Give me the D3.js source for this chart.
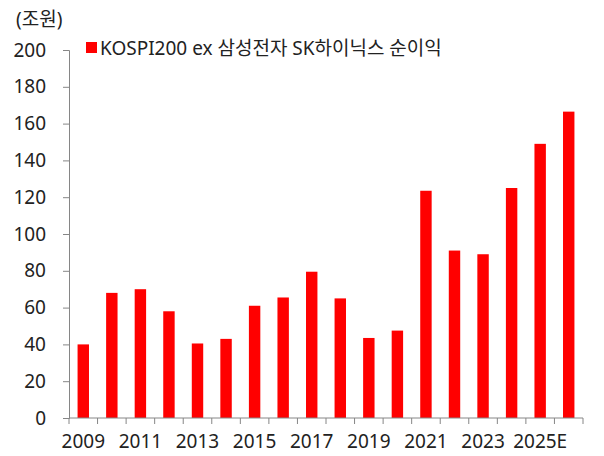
<!DOCTYPE html>
<html>
<head>
<meta charset="utf-8">
<script src="https://cdn.jsdelivr.net/npm/d3@7"></script>
<style>
	body { margin: 0; background: #fff; }
	svg text { font-family: "Noto Sans", "Noto Sans CJK KR", sans-serif; fill: #222; font-size: 19px; }
</style>
</head>
<body>
<svg width="604" height="456"></svg>
<script>
// Data
const years = ["2009", "2010", "2011", "2012", "2013", "2014", "2015", "2016", "2017",
	"2018", "2019", "2020", "2021", "2022", "2023", "2024", "2025E", "2026E"];
const netIncome = [40, 68, 70, 58, 40.5, 43, 61, 65.5, 79.5,
	65, 43.5, 47.5, 123.5, 91, 89, 125, 149, 166.5];
const yTicks = [0, 20, 40, 60, 80, 100, 120, 140, 160, 180, 200];
const xLabels = ["2009", "2011", "2013", "2015", "2017", "2019", "2021", "2023", "2025E"];
const seriesName = "KOSPI200 ex 삼성전자 SK하이닉스 순이익";
const unitLabel = "(조원)";

const svg = d3.select("svg"),
	plotLeft = 69,
	plotRight = 583,
	plotTop = 50,
	plotBottom = 418;

const xScale = d3.scaleBand()
	.domain(years)
	.range([plotLeft, plotRight])
	.paddingInner(0.6)
	.paddingOuter(0.3);

const yScale = d3.scaleLinear()
	.domain([0, 200])
	.range([plotBottom, plotTop]);

const axisColor = "#868686";

// y axis
const gy = svg.append("g")
	.attr("transform", `translate(${plotLeft},0)`)
	.call(d3.axisLeft(yScale).tickValues(yTicks).tickSize(6).tickPadding(17));
gy.select(".domain").attr("stroke", axisColor);
gy.selectAll(".tick line").attr("stroke", axisColor);

// bars
svg.append("g")
	.selectAll("rect")
	.data(years)
	.enter()
	.append("rect")
	.attr("x", (d) => xScale(d))
	.attr("y", (d, i) => yScale(netIncome[i]))
	.attr("width", xScale.bandwidth())
	.attr("height", (d, i) => plotBottom - yScale(netIncome[i]))
	.attr("fill", "#ff0000");

// x axis: ticks sit on band boundaries
const step = xScale.step();
const gx = svg.append("g").attr("transform", `translate(0,${plotBottom})`);
gx.append("line")
	.attr("x1", plotLeft).attr("x2", plotRight)
	.attr("stroke", axisColor);
gx.selectAll(".xtick")
	.data(d3.range(years.length + 1))
	.enter()
	.append("line")
	.attr("class", "xtick")
	.attr("x1", (i) => plotLeft + i * step)
	.attr("x2", (i) => plotLeft + i * step)
	.attr("y2", 6)
	.attr("stroke", axisColor);
gx.selectAll(".xlab")
	.data(xLabels)
	.enter()
	.append("text")
	.attr("class", "xlab")
	.attr("x", (d) => xScale(d) + xScale.bandwidth() / 2)
	.attr("y", 30)
	.attr("text-anchor", "middle")
	.text((d) => d);

// unit label
svg.append("text")
	.attr("x", 16)
	.attr("y", 26)
	.text(unitLabel);

// legend
svg.append("rect")
	.attr("x", 86).attr("y", 42)
	.attr("width", 11).attr("height", 11)
	.attr("fill", "#ff0000");
svg.append("text")
	.attr("x", 100)
	.attr("y", 55)
	.text(seriesName);
</script>
</body>
</html>
